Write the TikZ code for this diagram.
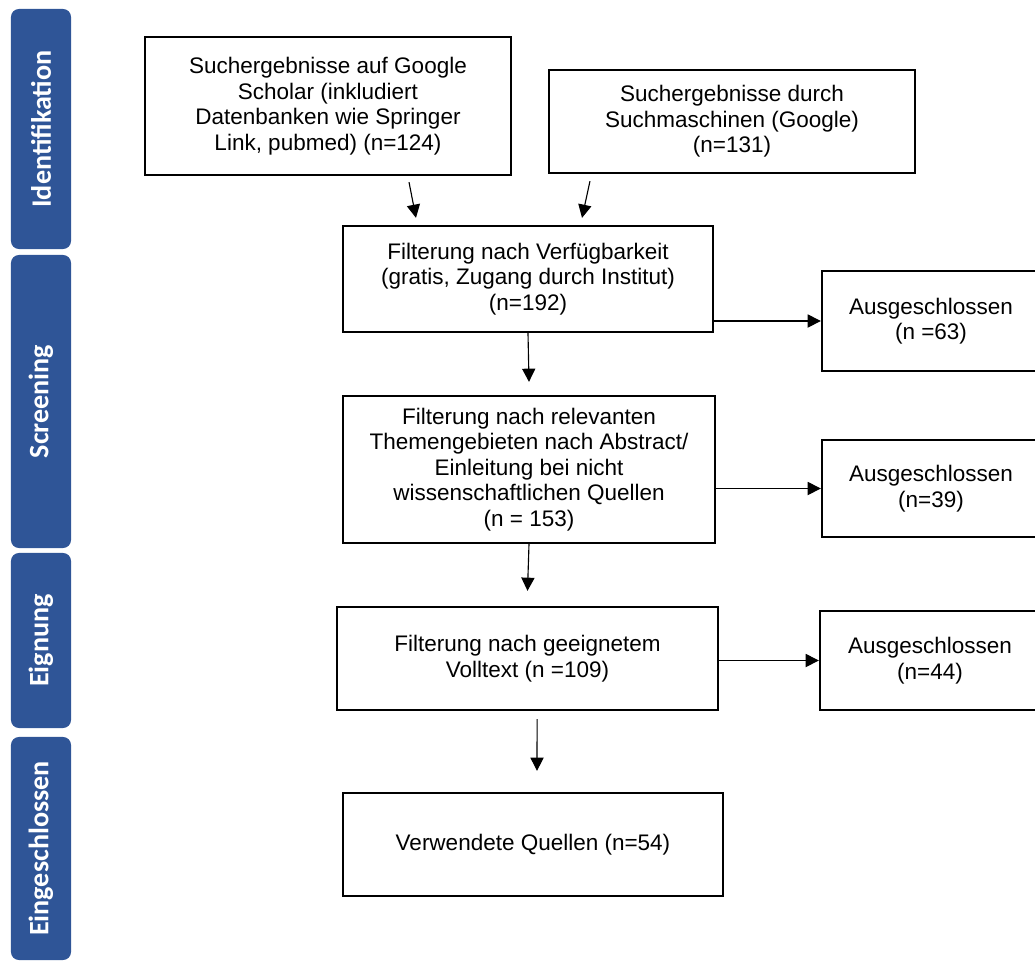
\documentclass[tikz,border=0pt]{standalone}
\usepackage{fontspec}
\setmainfont{Liberation Sans}
\newfontfamily\phasefont{Carlito}
\usepackage{xcolor}
\usetikzlibrary{arrows.meta}
\definecolor{phaseblue}{RGB}{47,85,151}

\begin{document}
\begin{tikzpicture}[x=0.025cm, y=-0.025cm,
        box/.style={rectangle, draw, line width=1.6pt, align=center, inner sep=0pt, font=\fontsize{16}{18.1}\selectfont},
        phase/.style={rectangle, rounded corners=0.2cm, fill=phaseblue, text=white, rotate=90, minimum height=1.5cm, font=\phasefont\bfseries\fontsize{20}{24}\selectfont},
        arrow/.style={-{Triangle[length=0.33cm, width=0.33cm]}, line width=0.8pt}
    ]
        \useasboundingbox (0,0) rectangle (1035,962);

        % Phases
        \node[phase, minimum width=6cm] (ident) at (41,129) {Identifikation};
        \node[phase, minimum width=7.325cm] (screen) at (41,401.5) {Screening};
        \node[phase, minimum width=4.375cm] (eign) at (41,640.5) {Eignung};
        \node[phase, minimum width=5.575cm] (incl) at (41,848.5) {Eingeschlossen};

        % Sources
        \node[box, minimum width=9.15cm, minimum height=3.45cm] (scholar) at (328,106) {Suchergebnisse auf Google\\Scholar (inkludiert\\Datenbanken wie Springer\\Link, pubmed) (n=124)};
        \node[box, minimum width=9.15cm, minimum height=2.575cm] (google) at (732,121.5) {Suchergebnisse durch\\Suchmaschinen (Google)\\(n=131)};

        % Filtering steps
        \node[box, minimum width=9.25cm, minimum height=2.65cm] (avail) at (528,279) {Filterung nach Verfügbarkeit\\(gratis, Zugang durch Institut)\\(n=192)};
        \node[box, minimum width=9.3cm, minimum height=3.675cm] (topic) at (529,469.5) {Filterung nach relevanten\\Themengebieten nach Abstract/\\Einleitung bei nicht\\wissenschaftlichen Quellen\\(n = 153)};
        \node[box, minimum width=9.525cm, minimum height=2.575cm] (fulltext) at (527.5,658.5) {Filterung nach geeignetem\\Volltext (n =109)};
        \node[box, minimum width=9.5cm, minimum height=2.575cm] (used) at (533,844.5) {Verwendete Quellen (n=54)};

        % Excluded
        \node[box, minimum width=5.45cm, minimum height=2.5cm] (excla) at (931,321) {Ausgeschlossen\\(n =63)};
        \node[box, minimum width=5.45cm, minimum height=2.425cm] (exclb) at (931,488.5) {Ausgeschlossen\\(n=39)};
        \node[box, minimum width=5.5cm, minimum height=2.475cm] (exclc) at (930,660.5) {Ausgeschlossen\\(n=44)};

        % Arrows
        \draw[arrow] ([xshift=2.025cm, yshift=-0.15cm]scholar.south) -- ([xshift=-2.8cm, yshift=0.175cm]avail.north);
        \draw[arrow] ([xshift=-3.55cm, yshift=-0.175cm]google.south) -- ([xshift=1.35cm, yshift=0.175cm]avail.north);
        \draw[arrow] (avail.south) -- ([yshift=0.325cm]topic.north);
        \draw[arrow] (topic.south) -- ([yshift=0.375cm]fulltext.north);
        \draw[arrow] ([xshift=0.24cm, yshift=-0.2cm]fulltext.south) -- ([xshift=0.1cm, yshift=0.525cm]used.north);
        \draw[arrow] (avail.east |- excla.west) -- (excla.west);
        \draw[arrow] (topic.east |- exclb.west) -- (exclb.west);
        \draw[arrow] (fulltext.east |- exclc.west) -- (exclc.west);
    \end{tikzpicture}
\end{document}
